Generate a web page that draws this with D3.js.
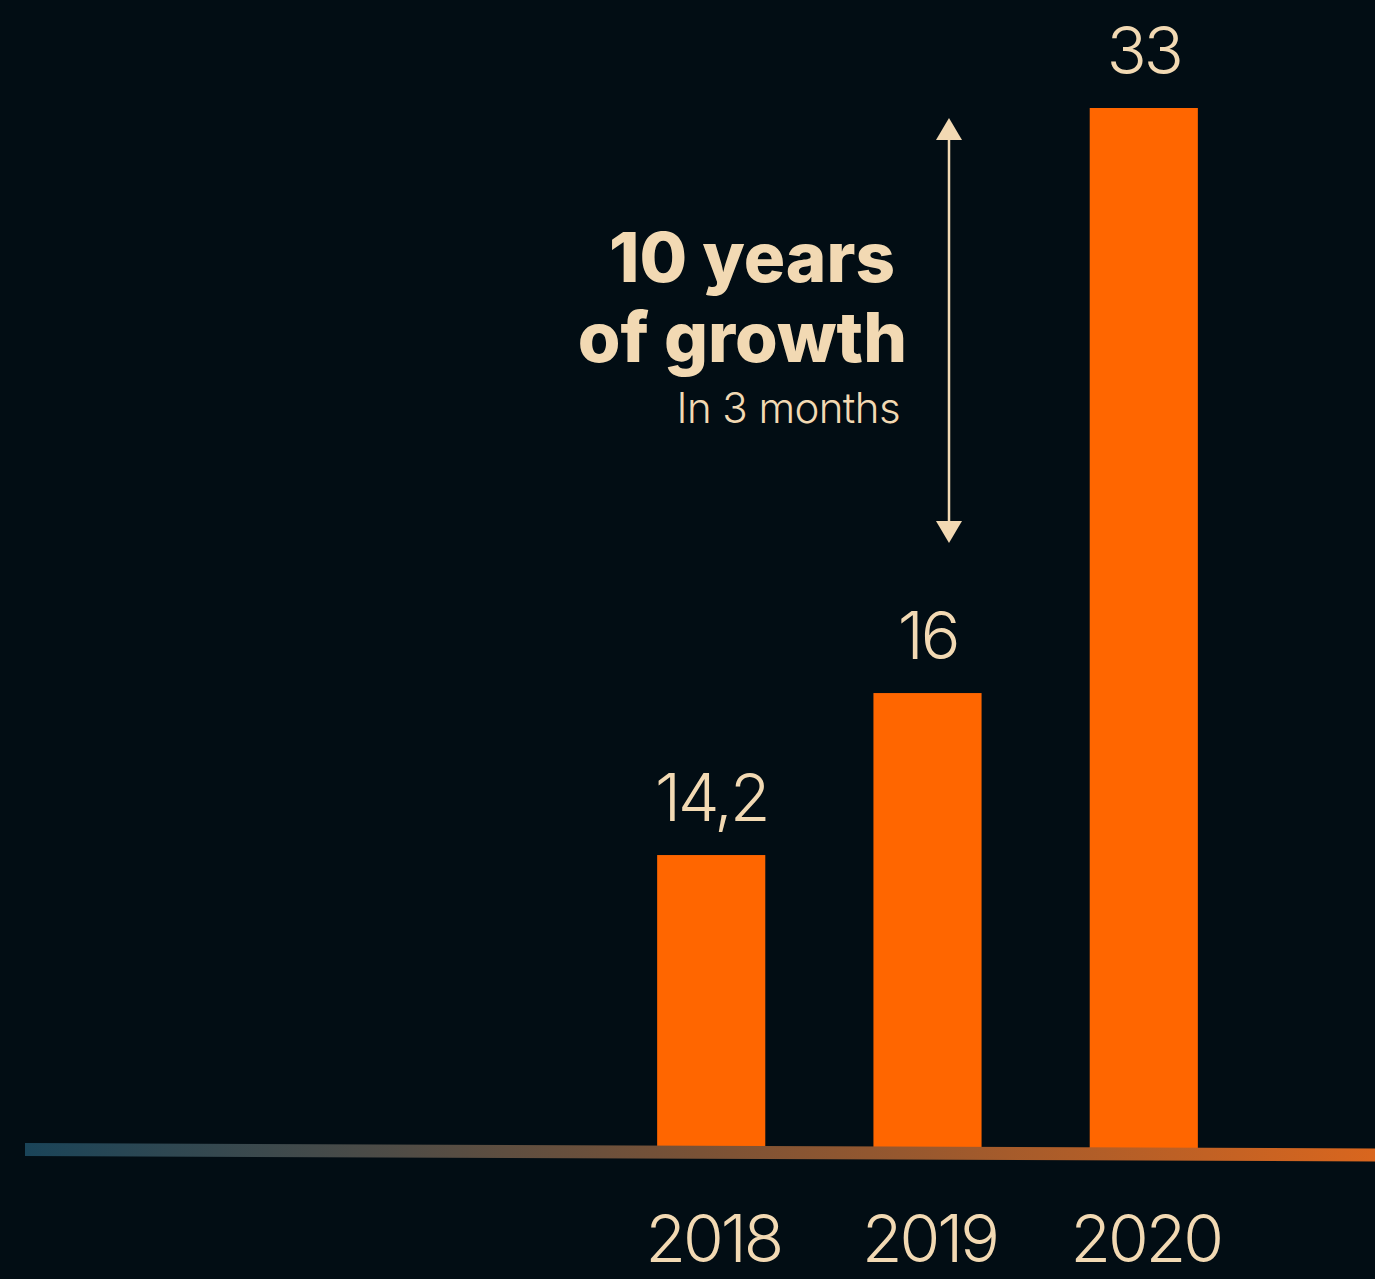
<!DOCTYPE html>
<html>
<head>
<meta charset="utf-8">
<script src="https://cdn.jsdelivr.net/npm/d3@7"></script>
<style>
  html, body { margin: 0; padding: 0; background: #020d14; }
  svg { display: block; }
</style>
</head>
<body>
<div id="chart"></div>
<script>
// data
var years = ["2018", "2019", "2020"];
var valueLabels = ["14,2", "16", "33"];
// bar heights (the bars are not drawn to the printed values)
var barValues = [9.25, 14.4, 33];

var W = 1375, H = 1279;
var baseY = 1146;
var cream = "#f2d9b3";

var svg = d3.select("#chart").append("svg")
    .attr("width", W)
    .attr("height", H);

svg.append("rect")
    .attr("width", W)
    .attr("height", H)
    .attr("fill", "#020d14");

var x = d3.scaleBand()
    .domain(years)
    .range([549, 1306])
    .paddingInner(0.5)
    .paddingOuter(0.5);

var y = d3.scaleLinear()
    .domain([0, 33])
    .range([baseY, 108]);

var rows = years.map(function(d, i){
    return { year: d, label: valueLabels[i], v: barValues[i] };
});

// bars
svg.selectAll("rect.bar")
    .data(rows)
    .enter()
    .append("rect")
    .attr("class", "bar")
    .attr("x", function(d){ return x(d.year); })
    .attr("width", x.bandwidth())
    .attr("y", function(d){ return y(d.v); })
    .attr("height", function(d){ return baseY - y(d.v) + 2; })
    .attr("fill", "#ff6600");

// slanted gradient baseline
var defs = svg.append("defs");
var grad = defs.append("linearGradient")
    .attr("id", "baseGrad")
    .attr("x1", "0%").attr("x2", "100%")
    .attr("y1", "0%").attr("y2", "0%");
grad.append("stop").attr("offset", "0%").attr("stop-color", "#1a4459");
grad.append("stop").attr("offset", "50%").attr("stop-color", "#7a5236");
grad.append("stop").attr("offset", "100%").attr("stop-color", "#d9661e");

svg.append("path")
    .attr("d", "M25," + (baseY - 3) + "L" + W + "," + (baseY + 2.5)
        + "L" + W + "," + (baseY + 15.5) + "L25," + (baseY + 10) + "Z")
    .attr("fill", "url(#baseGrad)");

// value labels
svg.selectAll("text.val")
    .data(rows)
    .enter()
    .append("text")
    .attr("class", "val")
    .attr("x", function(d){ return x(d.year) + x.bandwidth() / 2; })
    .attr("y", function(d){ return y(d.v) - 34; })
    .attr("text-anchor", "middle")
    .attr("font-family", "Inter, sans-serif")
    .attr("font-weight", 300)
    .attr("font-size", 66)
    .attr("letter-spacing", -3)
    .attr("fill", cream)
    .text(function(d){ return d.label; });

// year labels
svg.selectAll("text.year")
    .data(rows)
    .enter()
    .append("text")
    .attr("class", "year")
    .attr("x", function(d){ return x(d.year) + x.bandwidth() / 2 + 2; })
    .attr("y", 1262)
    .attr("text-anchor", "middle")
    .attr("font-family", "Inter, sans-serif")
    .attr("font-weight", 300)
    .attr("font-size", 66)
    .attr("letter-spacing", -3)
    .attr("fill", cream)
    .text(function(d){ return d.year; });

// double arrow
var ax = 949, aTop = 118, aBot = 543;
svg.append("line")
    .attr("x1", ax).attr("x2", ax)
    .attr("y1", aTop + 10).attr("y2", aBot - 10)
    .attr("stroke", cream)
    .attr("stroke-width", 2.5);
svg.append("path")
    .attr("d", "M" + ax + "," + aTop + "L" + (ax + 13) + "," + (aTop + 22) + "L" + (ax - 13) + "," + (aTop + 22) + "Z")
    .attr("fill", cream);
svg.append("path")
    .attr("d", "M" + ax + "," + aBot + "L" + (ax + 13) + "," + (aBot - 22) + "L" + (ax - 13) + "," + (aBot - 22) + "Z")
    .attr("fill", cream);

// annotation
var note = svg.append("g")
    .attr("fill", cream)
    .attr("font-family", "Inter, sans-serif")
    .attr("text-anchor", "end");
note.append("text")
    .attr("x", 895).attr("y", 282)
    .attr("font-size", 69).attr("font-weight", 800)
    .text("10 years");
note.append("text")
    .attr("x", 907).attr("y", 362)
    .attr("font-size", 69).attr("font-weight", 800)
    .text("of growth");
note.append("text")
    .attr("x", 900).attr("y", 423)
    .attr("font-size", 42).attr("font-weight", 300)
    .attr("letter-spacing", -0.6)
    .text("In 3 months");
</script>
</body>
</html>
